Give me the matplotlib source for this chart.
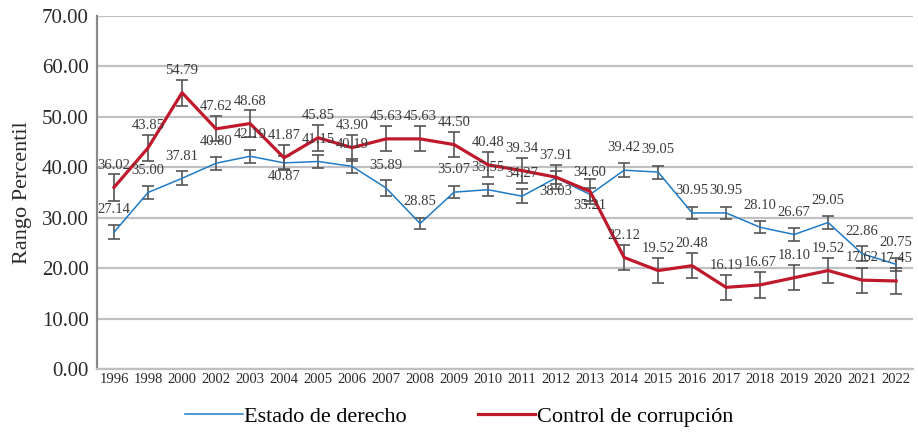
import matplotlib
matplotlib.use("Agg")
import matplotlib.pyplot as plt
import numpy as np
from matplotlib.lines import Line2D

plt.rcParams["font.family"] = ["Liberation Serif", "DejaVu Serif"]

YEARS = ["1996", "1998", "2000", "2002", "2003", "2004", "2005", "2006",
         "2007", "2008", "2009", "2010", "2011", "2012", "2013", "2014",
         "2015", "2016", "2017", "2018", "2019", "2020", "2021", "2022"]

ESTADO = [27.14, 35.00, 37.81, 40.80, 42.19, 40.87, 41.15, 40.19,
          35.89, 28.85, 35.07, 35.55, 34.27, 37.91, 34.60, 39.42,
          39.05, 30.95, 30.95, 28.10, 26.67, 29.05, 22.86, 20.75]
ESTADO_ERR = [1.4, 1.3, 1.4, 1.3, 1.3, 1.3, 1.3, 1.4,
              1.5, 1.1, 1.2, 1.2, 1.4, 1.3, 1.3, 1.4,
              1.3, 1.2, 1.2, 1.2, 1.2, 1.25, 1.5, 1.3]

CORRUPCION = [36.02, 43.85, 54.79, 47.62, 48.68, 41.87, 45.85, 43.90,
              45.63, 45.63, 44.50, 40.48, 39.34, 38.03, 35.21, 22.12,
              19.52, 20.48, 16.19, 16.67, 18.10, 19.52, 17.62, 17.45]
CORRUPCION_ERR = [2.7, 2.6, 2.6, 2.5, 2.6, 2.5, 2.6, 2.6,
                  2.5, 2.5, 2.5, 2.5, 2.5, 2.4, 2.4, 2.5,
                  2.5, 2.5, 2.5, 2.5, 2.5, 2.5, 2.5, 2.5]

# labels drawn under the point instead of above
ESTADO_BELOW = ["2004"]
CORRUPCION_BELOW = ["2012", "2013"]

BLUE = "#1f7bc6"
RED = "#c0192c"
GRID = "#c0c0c4"
TXT = "#3a3a3a"

x = np.arange(len(YEARS))

fig = plt.figure(figsize=(9.18, 4.36), dpi=100)
ax = fig.add_axes([0.1057, 0.1537, 0.889, 0.8096])

ax.errorbar(x, ESTADO, yerr=ESTADO_ERR, color=BLUE, lw=1.1,
            ecolor="#555555", elinewidth=1.2, capsize=4, capthick=1.2, zorder=3)
ax.errorbar(x, CORRUPCION, yerr=CORRUPCION_ERR, color=RED, lw=2.3,
            ecolor="#555555", elinewidth=1.2, capsize=4, capthick=1.2, zorder=4)

for series, below in ((ESTADO, ESTADO_BELOW), (CORRUPCION, CORRUPCION_BELOW)):
    for xi, yr, val in zip(x, YEARS, series):
        dy = -10 if yr in below else 16
        ax.annotate(f"{val:.2f}", (xi, val), xytext=(0, dy), textcoords="offset points",
                    ha="center", va="center", fontsize=10.5, color=TXT, zorder=5)

ax.set_xlim(-0.5, len(YEARS) - 0.5)
ax.set_ylim(0, 70)
ax.set_yticks(np.arange(0, 71, 10))
ax.set_yticklabels([f"{v:.2f}" for v in np.arange(0, 71, 10)], fontsize=15, color="#2a2a2a")
ax.set_xticks(x)
ax.set_xticklabels(YEARS, fontsize=10.5, color="#2a2a2a")
ax.tick_params(axis="both", length=0, pad=3)
ax.tick_params(axis="y", pad=6)

ax.grid(axis="y", color=GRID, lw=1.6)
ax.set_axisbelow(True)
for side in ("top", "right"):
    ax.spines[side].set_visible(False)
ax.spines["left"].set_color("#8a8a8a")
ax.spines["left"].set_linewidth(1.6)
ax.spines["bottom"].set_color(GRID)
ax.spines["bottom"].set_linewidth(1.6)

ax.set_ylabel("Rango Percentil", fontsize=16, color="#2a2a2a", labelpad=7)

handles = [Line2D([], [], color=BLUE, lw=1.1), Line2D([], [], color=RED, lw=2.3)]
fig.legend(handles, ["Estado de derecho", "Control de corrupción"],
           loc="center", bbox_to_anchor=(0.5, 0.045), ncol=2, frameon=False,
           fontsize=16, handlelength=2.6, handletextpad=0.05, columnspacing=3.2)

fig.savefig("out.png", dpi=100)
